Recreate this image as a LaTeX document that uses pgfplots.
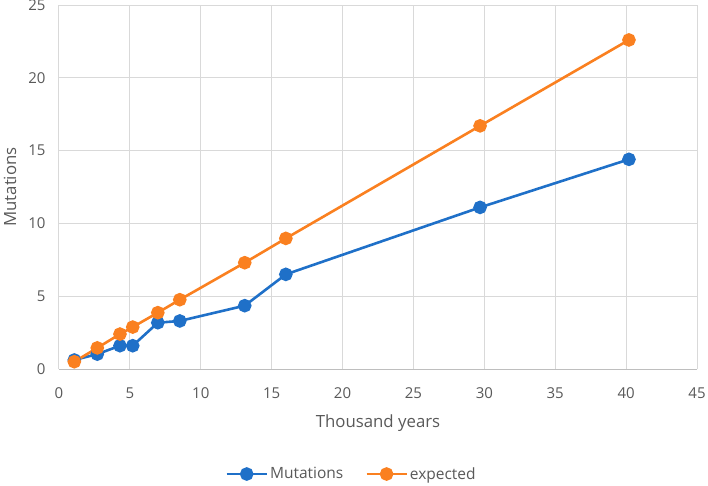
\documentclass[border=0pt]{standalone}
\usepackage{fontspec}
\setmainfont{Open Sans}
\usepackage{pgfplots}
\pgfplotsset{compat=1.18}
\usetikzlibrary{calc}
\definecolor{mutblue}{RGB}{31,112,200}
\definecolor{exporange}{RGB}{250,128,32}
\definecolor{txtgray}{RGB}{89,89,89}
\definecolor{gridgray}{RGB}{217,217,217}
\begin{document}
\begin{tikzpicture}
\begin{axis}[
    name=ax,
    width=638pt, height=364pt, scale only axis,
    xmin=0, xmax=45, ymin=0, ymax=25,
    xtick={0,5,...,45}, ytick={0,5,...,25},
    grid=major, grid style={gridgray, line width=1pt},
    axis line style={draw=none},
    axis x line*=bottom, axis y line*=left,
    x axis line style={draw=gridgray!70!gray, line width=1pt},
    tick style={draw=none},
    ticklabel style={font=\fontsize{15}{18}\selectfont, text=txtgray},
    xticklabel style={yshift=-15pt},
    yticklabel style={xshift=-10pt},
    /pgf/number format/assume math mode=true,
    xlabel={Thousand years}, ylabel={Mutations},
    label style={font=\fontsize{16.8}{20}\selectfont, text=txtgray},
    xlabel style={at={(axis description cs:0.5,-0.148)}, anchor=center},
    ylabel style={at={(axis description cs:-0.0768,0.5)}, anchor=center},
    legend style={at={(0.4585,-0.2885)}, anchor=center, draw=none,
        font=\fontsize{15.5}{18}\selectfont, text=txtgray,
        /tikz/every even column/.append style={column sep=20pt}},
    legend columns=2,
    legend image code/.code={
        \draw[#1] (0pt,0pt) -- (40pt,0pt);
        \draw[#1, mark repeat=1] plot coordinates {(20pt,0pt)};
    },
]
\addplot[mutblue, line width=2.6pt, mark=*, mark size=5.5pt] coordinates {
    (1.08,0.62) (2.7,1.02) (4.3,1.6) (5.2,1.6) (6.97,3.18)
    (8.52,3.3) (13.1,4.35) (16.0,6.5) (29.7,11.1) (40.2,14.4)
};
\addplot[exporange, line width=2.6pt, mark=*, mark size=5.5pt] coordinates {
    (1.08,0.5) (2.7,1.45) (4.3,2.4) (5.2,2.88) (6.97,3.87)
    (8.52,4.76) (13.1,7.3) (16.0,8.97) (29.7,16.7) (40.2,22.6)
};
\legend{Mutations, expected}
\end{axis}
\pgfresetboundingbox
\path[use as bounding box] ($(ax.south west)+(-59pt,-116pt)$) rectangle ($(ax.south west)+(649pt,369pt)$);
\end{tikzpicture}
\end{document}
